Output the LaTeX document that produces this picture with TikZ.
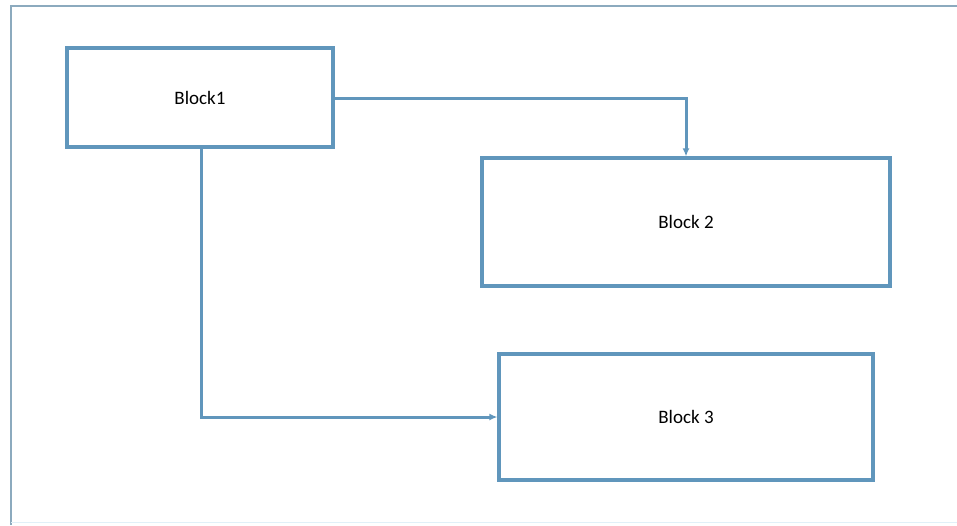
\documentclass[tikz,border=0pt]{standalone}
\usepackage{fontspec}
\setmainfont{Carlito}
\usetikzlibrary{arrows.meta}
\definecolor{boxblue}{RGB}{96,150,188}
\definecolor{framecol}{RGB}{140,170,190}
\definecolor{faintcol}{RGB}{225,240,248}
\tikzset{
  blockbox/.style={draw=boxblue, line width=3.2pt, fill=white, inner sep=0pt, font=\fontsize{19}{22}\selectfont},
  conn/.style={draw=boxblue, line width=3pt, -{Latex[length=8pt,width=7pt]}},
}
\begin{document}
\begin{tikzpicture}[x=1pt,y=-1pt]
\useasboundingbox (0,0) rectangle (957,525);
\fill[white] (0,0) rectangle (957,525);
\draw[framecol, line width=1.6pt] (11,525) -- (11,6) -- (957,6);
\draw[faintcol, line width=1pt] (11,522) -- (957,522);
\node[blockbox, minimum width=266pt, minimum height=99pt] (b1) at (200,97.5) {Block1};
\node[blockbox, minimum width=408pt, minimum height=128pt] (b2) at (686,222) {Block 2};
\node[blockbox, minimum width=374pt, minimum height=126pt] (b3) at (686,417) {Block 3};
\coordinate (c1) at (686,98);
\coordinate (c2) at (201,417);
\draw[conn] (b1.east |- c1) -- (c1) -- (c1 |- b2.north);
\draw[conn] (c2 |- b1.south) -- (c2) -- (b3.west);
\end{tikzpicture}
\end{document}
